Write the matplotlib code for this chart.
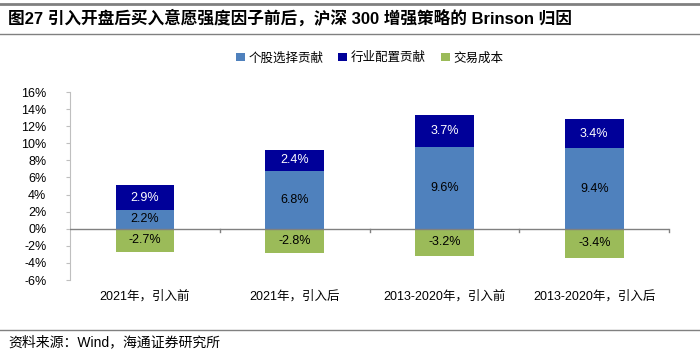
import numpy as np
import matplotlib.pyplot as plt
from matplotlib.lines import Line2D

plt.rcParams['font.family'] = ['Liberation Sans', 'Noto Sans CJK SC', 'DejaVu Sans']

# --- Datos ---
categories = ['2021年，引入前', '2021年，引入后', '2013-2020年，引入前', '2013-2020年，引入后']
stock_sel = [2.2, 6.8, 9.6, 9.4]      # 个股选择贡献
industry = [2.9, 2.4, 3.7, 3.4]       # 行业配置贡献
trade_cost = [-2.7, -2.8, -3.2, -3.4]  # 交易成本
series_names = ['个股选择贡献', '行业配置贡献', '交易成本']
colors = ['#4F81BD', '#000099', '#9BBB59']

fig = plt.figure(figsize=(7, 3.54), dpi=100)
ax = fig.add_axes([0.1, 0.209, 0.856, 0.531])

x = np.arange(len(categories))
w = 0.39
ax.bar(x, stock_sel, w, color=colors[0], label=series_names[0], zorder=2)
ax.bar(x, industry, w, bottom=stock_sel, color=colors[1], label=series_names[1], zorder=2)
ax.bar(x, trade_cost, w, color=colors[2], label=series_names[2], zorder=2)

# Etiquetas de valores
for i in range(len(x)):
    ax.text(x[i], stock_sel[i] / 2, f'{stock_sel[i]:.1f}%', ha='center', va='center', fontsize=9, color='black')
    ax.text(x[i], stock_sel[i] + industry[i] / 2, f'{industry[i]:.1f}%', ha='center', va='center', fontsize=9, color='white')
    ax.text(x[i], trade_cost[i] / 2, f'{trade_cost[i]:.1f}%', ha='center', va='center', fontsize=9, color='black')

ax.set_xlim(-0.5, len(categories) - 0.5)
ax.set_ylim(-6, 16)
ax.set_yticks(np.arange(-6, 17, 2))
ax.set_yticklabels([f'{v}%' for v in range(-6, 17, 2)], fontsize=9)
ax.tick_params(axis='y', direction='out', length=3, color='#BFBFBF', pad=14)

# Ejes
for s in ['top', 'right', 'bottom']:
    ax.spines[s].set_visible(False)
ax.spines['left'].set_color('#BFBFBF')
ax.axhline(0, color='#808080', lw=1, zorder=3)
ax.set_xticks([])
for b in np.arange(0.5, len(categories), 1):
    ax.plot([b, b], [0, -0.35], color='#808080', lw=1, zorder=3, clip_on=False)
for i, c in enumerate(categories):
    ax.text(x[i], -7.2, c, ha='center', va='top', fontsize=9)

# Leyenda
ax.legend(loc='center', bbox_to_anchor=(0.5, 1.18), ncol=3, frameon=False,
          fontsize=9, handlelength=0.7, handleheight=0.7, handletextpad=0.3, columnspacing=1.2)

# Título y fuente
fig.text(0.012, 0.948, '图27 引入开盘后买入意愿强度因子前后，沪深 300 增强策略的 Brinson 归因',
         fontsize=12, fontweight='bold', va='center', ha='left')
fig.add_artist(Line2D([0, 1], [0.99, 0.99], color='#808080', lw=2))
fig.add_artist(Line2D([0, 1], [0.905, 0.905], color='#808080', lw=1))
fig.add_artist(Line2D([0, 1], [0.068, 0.068], color='#808080', lw=1))
fig.text(0.012, 0.032, '资料来源：Wind，海通证券研究所', fontsize=10, va='center', ha='left')

fig.savefig('out.png', dpi=100)
